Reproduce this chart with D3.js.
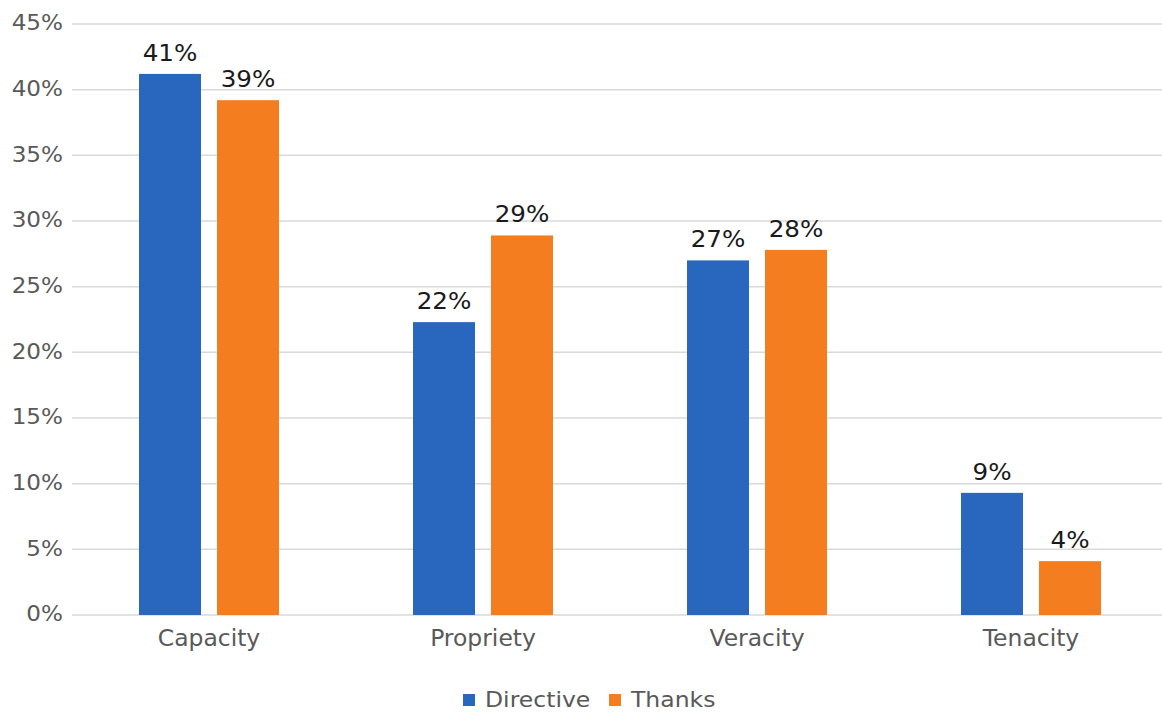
<!DOCTYPE html>
<html>
<head>
<meta charset="utf-8">
<script src="https://cdn.jsdelivr.net/npm/d3@7"></script>
<style>
  body { margin: 0; background: #fff; }
  svg text { font-family: "DejaVu Sans", sans-serif; }
</style>
</head>
<body>
<svg id="chart" width="1162" height="712"></svg>
<script>
// values (percent)
var categories = ["Capacity", "Propriety", "Veracity", "Tenacity"];
var seriesNames = ["Directive", "Thanks"];
var directive = [41.2, 22.3, 27.0, 9.3];
var thanks = [39.2, 28.9, 27.8, 4.1];
var valueLabels = [["41%", "22%", "27%", "9%"], ["39%", "29%", "28%", "4%"]];
var yTicks = [0, 5, 10, 15, 20, 25, 30, 35, 40, 45];
var colors = ["#2966BE", "#F47D20"];

var svg = d3.select("#chart");

var x = d3.scaleBand().domain(categories).range([72, 1168]);
var y = d3.scaleLinear().domain([0, 45]).range([615, 24]);

// the source text is a little wider than the font, so stretch it sideways
function place(px, py, sx) {
    return "translate(" + px + "," + py + ") scale(" + sx + ",1)";
}

// gridlines + y labels
svg.append("g")
    .selectAll("line")
    .data(yTicks)
    .enter()
    .append("line")
    .attr("x1", 72)
    .attr("x2", 1162)
    .attr("y1", function(d) { return y(d); })
    .attr("y2", function(d) { return y(d); })
    .attr("stroke", "#d9d9d9")
    .attr("stroke-width", 1.5);

svg.append("g")
    .selectAll("text")
    .data(yTicks)
    .enter()
    .append("text")
    .attr("transform", function(d) { return place(63, y(d), 1.1); })
    .attr("dy", "0.3em")
    .attr("text-anchor", "end")
    .attr("font-size", 21)
    .attr("fill", "#595959")
    .text(function(d) { return d + "%"; });

// category labels
svg.append("g")
    .selectAll("text")
    .data(categories)
    .enter()
    .append("text")
    .attr("transform", function(d) { return place(x(d) + x.bandwidth() / 2, 646, 1.02); })
    .attr("text-anchor", "middle")
    .attr("font-size", 23)
    .attr("fill", "#595959")
    .text(function(d) { return d; });

var barW = 62, gap = 16;
var series = [directive, thanks];

series.forEach(function(vals, s) {
    var g = svg.append("g");
    var bx = function(d, i) {
        var c = x(categories[i]) + x.bandwidth() / 2;
        return s == 0 ? c - gap / 2 - barW : c + gap / 2;
    };
    g.selectAll("rect")
        .data(vals)
        .enter()
        .append("rect")
        .attr("x", bx)
        .attr("y", function(d) { return y(d); })
        .attr("width", barW)
        .attr("height", function(d) { return y(0) - y(d); })
        .attr("fill", colors[s]);

    g.selectAll("text")
        .data(vals)
        .enter()
        .append("text")
        .attr("transform", function(d, i) { return place(bx(d, i) + barW / 2, y(d) - 13, 1.07); })
        .attr("text-anchor", "middle")
        .attr("font-size", 23)
        .attr("fill", "#1a1a1a")
        .text(function(d, i) { return valueLabels[s][i]; });
});

// legend
var legendX = [463, 609];
var legend = svg.append("g")
    .selectAll("g")
    .data(seriesNames)
    .enter()
    .append("g")
    .attr("transform", function(d, i) { return "translate(" + legendX[i] + ",700)"; });

legend.append("rect")
    .attr("x", 0)
    .attr("y", -6)
    .attr("width", 12)
    .attr("height", 12)
    .attr("fill", function(d, i) { return colors[i]; });

legend.append("text")
    .attr("transform", place(22, 6.5, 1.12))
    .attr("font-size", 21)
    .attr("fill", "#595959")
    .text(function(d) { return d; });
</script>
</body>
</html>
